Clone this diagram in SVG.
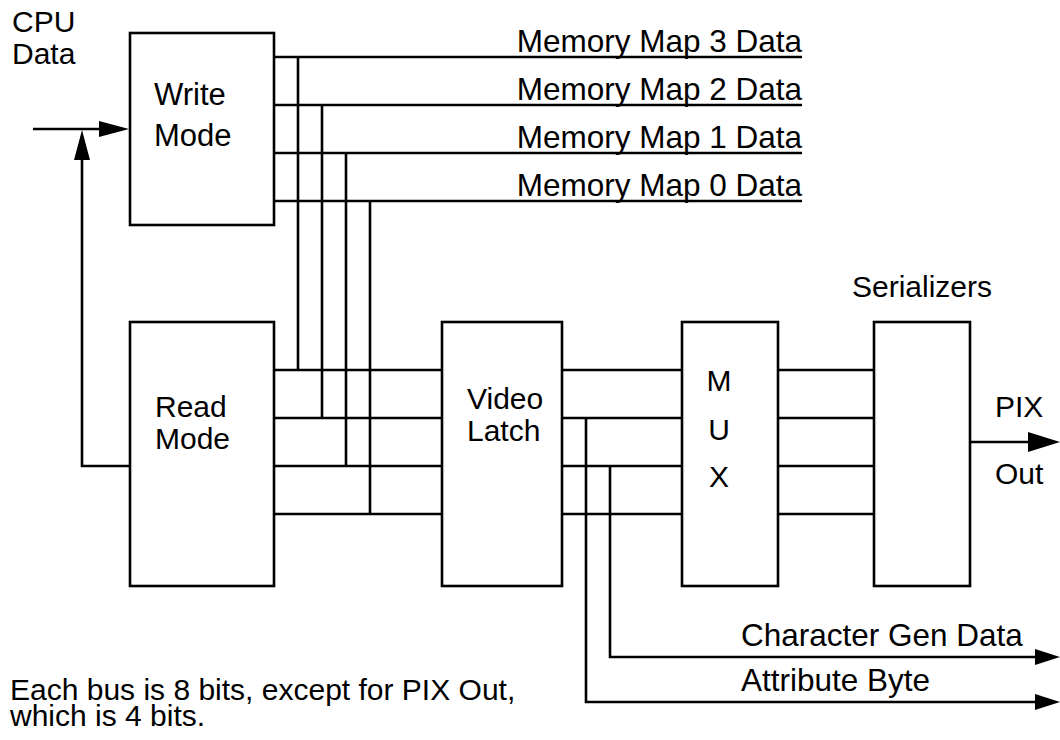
<svg xmlns="http://www.w3.org/2000/svg" width="1060" height="740" viewBox="0 0 1060 740">
<defs>
<style>
.box{fill:#fff;stroke:#000;stroke-width:2.6}
.w{fill:none;stroke:#000;stroke-width:2.6}
text{font-family:"Liberation Sans",Arial,Helvetica,sans-serif;font-size:30px;fill:#000}
.lbl{font-size:31.5px}
.big{font-size:31px}
.mid{text-anchor:middle}
.end{text-anchor:end}
</style>
<marker id="arr" viewBox="0 0 30 16" refX="0" refY="8" markerWidth="30" markerHeight="16" markerUnits="userSpaceOnUse" orient="auto">
<path d="M0,0 L30,8 L0,16 Z" fill="#000"/>
</marker>
<marker id="arrS" viewBox="0 0 25 16" refX="0" refY="8" markerWidth="25" markerHeight="16" markerUnits="userSpaceOnUse" orient="auto">
<path d="M0,0 L25,8 L0,16 Z" fill="#000"/>
</marker>
<marker id="arrL" viewBox="0 0 32 20" refX="0" refY="10" markerWidth="32" markerHeight="20" markerUnits="userSpaceOnUse" orient="auto">
<path d="M0,0 L32,10 L0,20 Z" fill="#000"/>
</marker>
</defs>
<rect width="1060" height="740" fill="#fff"/>

<g id="connectors">
<line class="w" x1="33" y1="129" x2="99" y2="129" marker-end="url(#arr)"/>
<polyline class="w" points="130,466 82,466 82,160" marker-end="url(#arr)"/>
<line class="w" x1="274" y1="57" x2="802" y2="57"/>
<line class="w" x1="274" y1="105" x2="802" y2="105"/>
<line class="w" x1="274" y1="153" x2="802" y2="153"/>
<line class="w" x1="274" y1="201" x2="802" y2="201"/>
<line class="w" x1="298" y1="57" x2="298" y2="370"/>
<line class="w" x1="322" y1="105" x2="322" y2="418"/>
<line class="w" x1="346" y1="153" x2="346" y2="466"/>
<line class="w" x1="370" y1="201" x2="370" y2="514"/>
<line class="w" x1="274" y1="370" x2="442" y2="370"/>
<line class="w" x1="274" y1="418" x2="442" y2="418"/>
<line class="w" x1="274" y1="466" x2="442" y2="466"/>
<line class="w" x1="274" y1="514" x2="442" y2="514"/>
<line class="w" x1="562" y1="370" x2="682" y2="370"/>
<line class="w" x1="562" y1="418" x2="682" y2="418"/>
<line class="w" x1="562" y1="466" x2="682" y2="466"/>
<line class="w" x1="562" y1="514" x2="682" y2="514"/>
<line class="w" x1="778" y1="370" x2="874" y2="370"/>
<line class="w" x1="778" y1="418" x2="874" y2="418"/>
<line class="w" x1="778" y1="466" x2="874" y2="466"/>
<line class="w" x1="778" y1="514" x2="874" y2="514"/>
<line class="w" x1="970" y1="442" x2="1028" y2="442" marker-end="url(#arrL)"/>
<polyline class="w" points="610,466 610,657 1035,657" marker-end="url(#arrS)"/>
<polyline class="w" points="586,418 586,702 1035,702" marker-end="url(#arrS)"/>
</g>

<g id="write-mode">
<rect class="box" x="130" y="33" width="144" height="192"/>
<text class="big" x="154" y="105">Write</text>
<text class="big" x="154" y="146">Mode</text>
</g>
<g id="read-mode">
<rect class="box" x="130" y="322" width="144" height="264"/>
<text x="155" y="417">Read</text>
<text x="155" y="449">Mode</text>
</g>
<g id="video-latch">
<rect class="box" x="442" y="322" width="120" height="264"/>
<text x="467" y="409">Video</text>
<text x="467" y="441">Latch</text>
</g>
<g id="mux">
<rect class="box" x="682" y="322" width="96" height="264"/>
<text class="mid" x="719" y="391">M</text>
<text class="mid" x="719" y="440">U</text>
<text class="mid" x="719" y="487">X</text>
</g>
<g id="serializers">
<rect class="box" x="874" y="322" width="96" height="264"/>
<text class="mid" x="922" y="297">Serializers</text>
</g>

<g id="labels">
<text x="12" y="32">CPU</text>
<text x="12" y="64">Data</text>
<text class="lbl end" x="802" y="52">Memory Map 3 Data</text>
<text class="lbl end" x="802" y="100">Memory Map 2 Data</text>
<text class="lbl end" x="802" y="148">Memory Map 1 Data</text>
<text class="lbl end" x="802" y="196">Memory Map 0 Data</text>
<text x="995" y="417">PIX</text>
<text x="995" y="484">Out</text>
<text class="lbl" x="741" y="646">Character Gen Data</text>
<text class="lbl" x="741" y="691">Attribute Byte</text>
<text x="10" y="700">Each bus is 8 bits, except for PIX Out,</text>
<text x="10" y="726">which is 4 bits.</text>
</g>
</svg>
